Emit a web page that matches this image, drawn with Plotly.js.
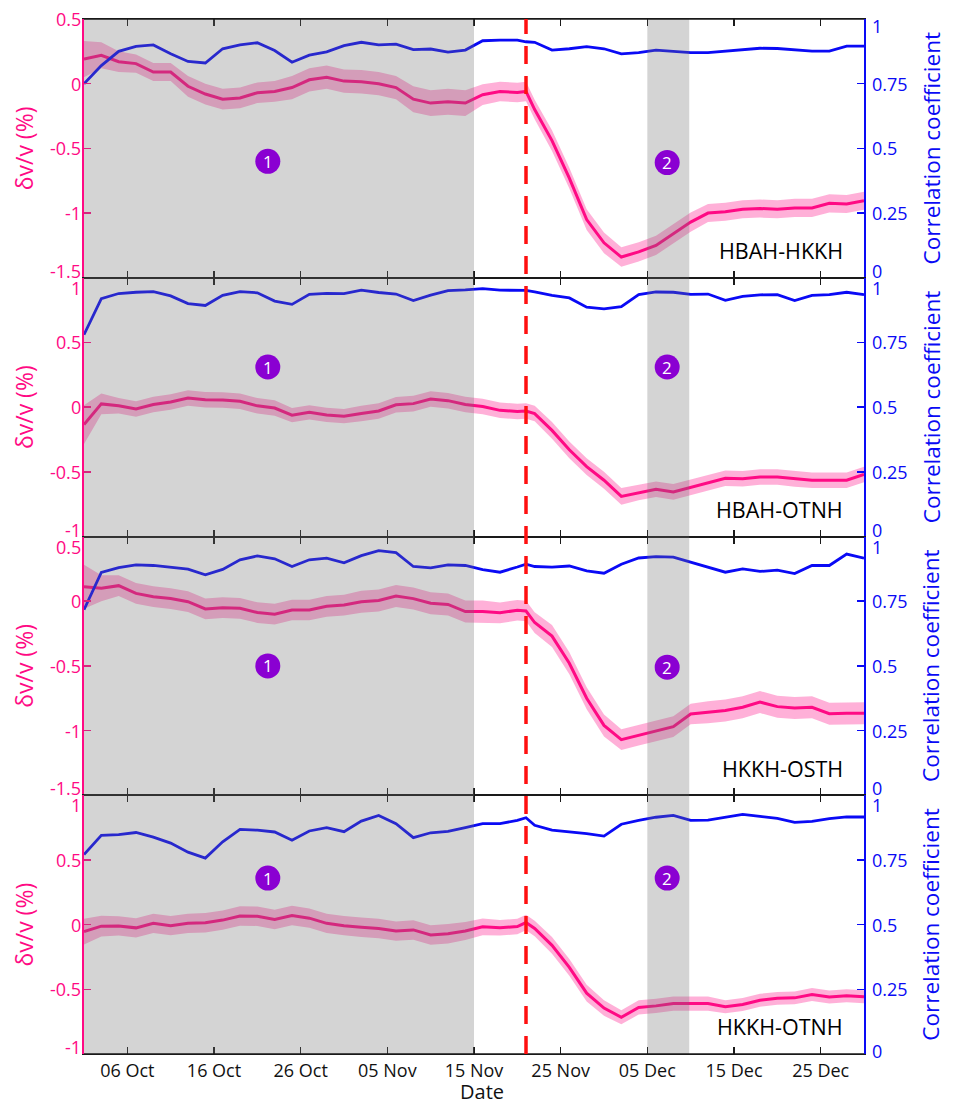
<!DOCTYPE html>
<html><head><meta charset="utf-8">
<script src="https://cdn.plot.ly/plotly-3.0.1.min.js"></script>
<style>html,body{margin:0;padding:0;background:#fff}#chart{width:958px;height:1104px}</style>
</head><body><div id="chart"></div>
<script>
// ---------- data ----------
const dates = ['2018-10-01','2018-10-03','2018-10-05','2018-10-07','2018-10-09','2018-10-11','2018-10-13','2018-10-15','2018-10-17','2018-10-19',
  '2018-10-21','2018-10-23','2018-10-25','2018-10-27','2018-10-29','2018-10-31','2018-11-02','2018-11-04','2018-11-06','2018-11-08',
  '2018-11-10','2018-11-12','2018-11-14','2018-11-16','2018-11-18','2018-11-20','2018-11-21','2018-11-22','2018-11-24','2018-11-26',
  '2018-11-28','2018-11-30','2018-12-02','2018-12-04','2018-12-06','2018-12-08','2018-12-10','2018-12-12','2018-12-14','2018-12-16',
  '2018-12-18','2018-12-20','2018-12-22','2018-12-24','2018-12-26','2018-12-28','2018-12-30'];

// HBAH-HKKH
const dv1 = [0.19,0.22,0.17,0.155,0.09,0.09,-0.02,-0.08,-0.12,-0.11,
  -0.07,-0.06,-0.03,0.03,0.05,0.02,0.015,0.0,-0.03,-0.12,
  -0.15,-0.14,-0.15,-0.085,-0.06,-0.068,-0.06,-0.2,-0.44,-0.73,
  -1.05,-1.23,-1.34,-1.3,-1.25,-1.16,-1.07,-1.0,-0.99,-0.97,
  -0.965,-0.97,-0.96,-0.96,-0.925,-0.93,-0.905];
const err1 = [0.14,0.1,0.08,0.07,0.07,0.07,0.08,0.08,0.08,0.08,
  0.08,0.08,0.09,0.09,0.09,0.09,0.09,0.09,0.09,0.1,
  0.1,0.1,0.1,0.08,0.075,0.075,0.075,0.075,0.08,0.08,
  0.08,0.08,0.075,0.075,0.075,0.075,0.075,0.07,0.07,0.07,
  0.07,0.07,0.07,0.07,0.07,0.07,0.07];
const cc1 = [0.75,0.82,0.875,0.894,0.9,0.866,0.836,0.83,0.885,0.9,
  0.908,0.878,0.833,0.86,0.873,0.897,0.91,0.9,0.903,0.882,
  0.884,0.872,0.88,0.916,0.918,0.918,0.912,0.91,0.88,0.885,
  0.893,0.885,0.865,0.87,0.88,0.875,0.87,0.87,0.876,0.882,
  0.887,0.886,0.882,0.876,0.876,0.895,0.895];

// HBAH-OTNH
const dv2 = [-0.135,0.025,0.01,-0.015,0.02,0.04,0.07,0.057,0.055,0.045,
  0.01,-0.007,-0.062,-0.04,-0.06,-0.07,-0.05,-0.03,0.018,0.027,
  0.062,0.05,0.02,0.005,-0.025,-0.033,-0.03,-0.05,-0.18,-0.33,
  -0.46,-0.565,-0.69,-0.66,-0.635,-0.655,-0.62,-0.585,-0.55,-0.553,
  -0.54,-0.54,-0.555,-0.565,-0.565,-0.565,-0.52];
const err2 = [0.15,0.08,0.06,0.06,0.06,0.06,0.06,0.06,0.06,0.06,
  0.06,0.06,0.055,0.055,0.055,0.055,0.06,0.06,0.06,0.06,
  0.06,0.06,0.06,0.06,0.06,0.06,0.06,0.06,0.065,0.065,
  0.065,0.065,0.065,0.06,0.06,0.06,0.06,0.06,0.06,0.06,
  0.06,0.06,0.06,0.06,0.06,0.06,0.06];
const cc2 = [0.78,0.919,0.939,0.944,0.946,0.93,0.9,0.893,0.932,0.946,
  0.942,0.91,0.897,0.936,0.94,0.939,0.952,0.943,0.937,0.912,
  0.933,0.95,0.953,0.958,0.952,0.951,0.951,0.945,0.932,0.922,
  0.886,0.88,0.888,0.935,0.945,0.944,0.936,0.937,0.913,0.928,
  0.934,0.935,0.912,0.932,0.935,0.944,0.935];

// HKKH-OSTH
const dv3 = [0.112,0.1,0.12,0.06,0.035,0.02,-0.004,-0.06,-0.05,-0.055,
  -0.088,-0.1,-0.068,-0.068,-0.04,-0.03,-0.004,0.005,0.04,0.02,
  -0.016,-0.025,-0.08,-0.08,-0.09,-0.07,-0.076,-0.165,-0.27,-0.48,
  -0.75,-0.96,-1.07,-1.035,-1.0,-0.97,-0.872,-0.858,-0.845,-0.82,
  -0.78,-0.815,-0.825,-0.82,-0.87,-0.866,-0.866];
const err3 = [0.17,0.1,0.08,0.08,0.08,0.08,0.08,0.08,0.08,0.08,
  0.08,0.08,0.08,0.08,0.08,0.08,0.085,0.085,0.085,0.085,
  0.085,0.085,0.085,0.085,0.08,0.08,0.08,0.08,0.085,0.085,
  0.085,0.085,0.08,0.08,0.08,0.08,0.08,0.085,0.085,0.085,
  0.085,0.085,0.085,0.085,0.085,0.085,0.085];
const cc3 = [0.717,0.861,0.88,0.89,0.888,0.88,0.874,0.852,0.873,0.91,
  0.925,0.914,0.884,0.91,0.916,0.898,0.926,0.945,0.938,0.884,
  0.879,0.89,0.888,0.872,0.862,0.882,0.893,0.884,0.882,0.886,
  0.867,0.858,0.893,0.917,0.922,0.92,0.9,0.88,0.862,0.875,
  0.865,0.87,0.857,0.888,0.888,0.932,0.916];

// HKKH-OTNH
const dv4 = [-0.054,-0.012,-0.01,-0.025,0.01,-0.008,0.01,0.015,0.035,0.067,
  0.065,0.04,0.07,0.05,0.01,-0.008,-0.02,-0.03,-0.05,-0.041,
  -0.08,-0.07,-0.049,-0.017,-0.024,-0.015,0.016,-0.03,-0.16,-0.33,
  -0.53,-0.645,-0.716,-0.64,-0.628,-0.61,-0.61,-0.61,-0.635,-0.618,
  -0.585,-0.57,-0.566,-0.54,-0.56,-0.55,-0.558];
const err4 = [0.1,0.08,0.075,0.075,0.075,0.075,0.075,0.075,0.075,0.075,
  0.075,0.075,0.075,0.075,0.075,0.075,0.075,0.075,0.075,0.075,
  0.075,0.075,0.07,0.065,0.06,0.06,0.06,0.06,0.065,0.065,
  0.065,0.06,0.055,0.055,0.055,0.055,0.055,0.055,0.05,0.05,
  0.05,0.05,0.05,0.05,0.05,0.05,0.05];
const cc4 = [0.771,0.845,0.848,0.856,0.838,0.815,0.78,0.757,0.82,0.868,
  0.865,0.858,0.826,0.862,0.875,0.859,0.9,0.922,0.89,0.836,
  0.855,0.86,0.875,0.89,0.89,0.903,0.913,0.884,0.865,0.859,
  0.852,0.842,0.888,0.903,0.915,0.922,0.903,0.904,0.915,0.926,
  0.918,0.911,0.895,0.899,0.91,0.916,0.916];

const pairNames = ['HBAH-HKKH','HBAH-OTNH','HKKH-OSTH','HKKH-OTNH'];
const leftTicks = [[0.5,0,-0.5,-1,-1.5],[1,0.5,0,-0.5,-1],[0.5,0,-0.5,-1,-1.5],[1,0.5,0,-0.5,-1]];
const leftTickText = [['0.5','0','-0.5','-1','-1.5'],['1','0.5','0','-0.5','-1'],['0.5','0','-0.5','-1','-1.5'],['1','0.5','0','-0.5','-1']];
const leftRanges = [[-1.5,0.5],[-1,1],[-1.5,0.5],[-1,1]];
const rightTicks = [0,0.25,0.5,0.75,1];
const rightTickText = ['0','0.25','0.5','0.75','1'];
const dateRange = ['2018-10-01','2018-12-30'];
const period1 = ['2018-10-01','2018-11-15'];
const period2 = ['2018-12-05','2018-12-09 20:00'];
const eventDate = '2018-11-21';
const periodLabels = ['1','2'];
const periodLabelDates = ['2018-10-22 05:00','2018-12-07 07:00'];
const periodLabelY = [[-0.6,-0.61],[0.31,0.31],[-0.5,-0.51],[0.36,0.36]];

// ---------- styling ----------
const PINK = '#FF0A84', BLUE = '#0A0AF5', BAND = 'rgba(255,0,128,0.31)', PURPLE = '#8A00D2';
const FONT = 'Open Sans, Noto Sans, sans-serif';
const TICK = 18;
const series = [[dv1,err1,cc1],[dv2,err2,cc2],[dv3,err3,cc3],[dv4,err4,cc4]];

const traces = [];
const layout = {
  width: 958, height: 1104,
  margin: {l: 84, r: 94, t: 19, b: 50},
  paper_bgcolor: '#fff', plot_bgcolor: '#fff',
  showlegend: false, font: {family: FONT, size: 17, color: '#111'},
  shapes: [], annotations: []
};

for (let i = 0; i < 4; i++) {
  const [dv, er, cc] = series[i];
  const xa = i === 0 ? 'x' : 'x' + (i + 1);
  const yl = 2 * i + 1 === 1 ? 'y' : 'y' + (2 * i + 1);
  const yr = 'y' + (2 * i + 2);
  const upper = dv.map((v, k) => v + er[k]);
  const lower = dv.map((v, k) => v - er[k]);
  traces.push({x: dates.concat(dates.slice().reverse()), y: upper.concat(lower.slice().reverse()),
    xaxis: xa, yaxis: yl, type: 'scatter', mode: 'lines', fill: 'toself', fillcolor: BAND,
    line: {width: 0}, hoverinfo: 'skip'});
  traces.push({x: dates, y: dv, xaxis: xa, yaxis: yl, type: 'scatter', mode: 'lines',
    line: {color: PINK, width: 3}});
  traces.push({x: dates, y: cc, xaxis: xa, yaxis: yr, type: 'scatter', mode: 'lines',
    line: {color: BLUE, width: 2.8}});

  const d0 = 0.75 - 0.25 * i, d1 = 1 - 0.25 * i;
  const xKey = i === 0 ? 'xaxis' : 'xaxis' + (i + 1);
  const ylKey = 'yaxis' + (i === 0 ? '' : (2 * i + 1));
  const yrKey = 'yaxis' + (2 * i + 2);
  layout[xKey] = {type: 'date', range: dateRange, anchor: yl, showline: true, mirror: 'ticks',
    linecolor: '#1a1a1a', linewidth: 1, ticks: 'inside', ticklen: 7, tickwidth: 1.5, tickcolor: '#1a1a1a',
    tick0: '2018-10-06', dtick: 864000000, tickformat: '%d %b', showticklabels: i === 3,
    tickfont: {family: FONT, size: TICK, color: '#111'}, showgrid: false, zeroline: false};
  layout[ylKey] = {domain: [d0, d1], range: leftRanges[i], anchor: xa, showline: true, linecolor: PINK,
    linewidth: 2, ticks: 'inside', ticklen: 7, tickwidth: 1.5, tickcolor: PINK, tickvals: leftTicks[i],
    showticklabels: false, showgrid: false, zeroline: false};
  layout[yrKey] = {overlaying: yl, side: 'right', anchor: xa, range: [0, 1], showline: true, linecolor: BLUE,
    linewidth: 2, ticks: 'inside', ticklen: 7, tickwidth: 1.5, tickcolor: BLUE, tickvals: rightTicks,
    showticklabels: false, showgrid: false, zeroline: false};

  // gray periods (translucent overlay above the curves)
  [period1, period2].forEach(p => layout.shapes.push({type: 'rect', layer: 'above', xref: xa,
    yref: yl + ' domain', x0: p[0], x1: p[1], y0: 0, y1: 1, fillcolor: 'rgb(112,112,112)', opacity: 0.3,
    line: {width: 0}}));

  // tick labels
  leftTicks[i].forEach((v, k) => {
    let ys = 0;
    if (k === 0 && i > 0) ys = -10;
    if (k === leftTicks[i].length - 1) ys = 7;
    layout.annotations.push({xref: 'paper', x: 0, xanchor: 'right', yanchor: 'middle', xshift: -1, yref: yl, y: v,
      yshift: ys, text: leftTickText[i][k], showarrow: false, font: {family: FONT, size: TICK, color: PINK}});
  });
  rightTicks.forEach((v, k) => {
    let ys = 0;
    if (k === rightTicks.length - 1) ys = i === 0 ? -7 : -10;
    if (k === 0) ys = i === 3 ? 3 : 7;
    layout.annotations.push({xref: 'paper', x: 1, xanchor: 'left', yanchor: 'middle', xshift: 6, yref: yr, y: v,
      yshift: ys, text: rightTickText[k], showarrow: false, font: {family: FONT, size: TICK, color: BLUE}});
  });

  // axis titles
  layout.annotations.push({xref: 'paper', x: -0.077, xanchor: 'center', yref: 'paper', y: (d0 + d1) / 2,
    yanchor: 'middle', text: 'δv/v (%)', textangle: -90, showarrow: false,
    font: {family: FONT, size: 23, color: PINK}});
  layout.annotations.push({xref: 'paper', x: 1.086, xanchor: 'center', yref: 'paper', y: (d0 + d1) / 2,
    yanchor: 'middle', text: 'Correlation coefficient', textangle: -90, showarrow: false,
    font: {family: FONT, size: 22.5, color: BLUE}});

  // station pair label
  layout.annotations.push({xref: 'paper', x: 0.9756, xanchor: 'right', yref: 'paper', y: d0 + 0.105 * 0.25,
    yanchor: 'middle', text: pairNames[i], showarrow: false, font: {family: FONT, size: 21.5, color: '#000'}});

  // period number badges
  periodLabels.forEach((t, k) => {
    layout.shapes.push({type: 'circle', layer: 'above', xref: xa, yref: yl, xsizemode: 'pixel', ysizemode: 'pixel',
      xanchor: periodLabelDates[k], yanchor: periodLabelY[i][k], x0: -12.5, x1: 12.5, y0: -12.5, y1: 12.5,
      fillcolor: PURPLE, line: {width: 0}});
    layout.annotations.push({xref: xa, yref: yl, x: periodLabelDates[k], y: periodLabelY[i][k], text: t,
      xanchor: 'center', yanchor: 'middle', showarrow: false, font: {family: FONT, size: 17, color: '#fff'}});
  });
}

// outer frame edges (top of first panel, bottom of last panel)
layout.shapes.push({type: 'line', layer: 'above', xref: 'paper', yref: 'paper', x0: 0, x1: 1, y0: 1, y1: 1,
  line: {color: '#1a1a1a', width: 1.5}});
layout.shapes.push({type: 'line', layer: 'above', xref: 'paper', yref: 'paper', x0: 0, x1: 1, y0: 0, y1: 0,
  line: {color: '#1a1a1a', width: 1.5}});

// event line
layout.shapes.push({type: 'line', layer: 'above', xref: 'x', yref: 'paper', x0: eventDate, x1: eventDate,
  y0: 0, y1: 1, line: {color: '#FF1010', width: 3.5, dash: '18px,12px'}});

// x title
layout.annotations.push({xref: 'paper', x: 0.51, xanchor: 'center', yref: 'paper', y: -0.036, yanchor: 'middle',
  text: 'Date', showarrow: false, font: {family: FONT, size: 20, color: '#111'}});

Plotly.newPlot('chart', traces, layout, {staticPlot: true, displayModeBar: false});
</script>
</body></html>
